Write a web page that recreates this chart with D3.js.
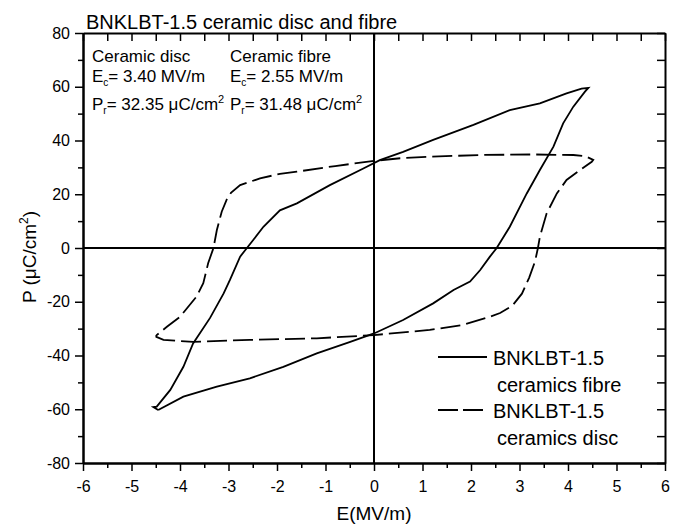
<!DOCTYPE html>
<html>
<head>
<meta charset="utf-8">
<script src="https://cdn.jsdelivr.net/npm/d3@7"></script>
<style>
  body { margin: 0; background: #fff; }
  svg { font-family: "Liberation Sans", Arial, sans-serif; }
</style>
</head>
<body>
<div class="chart"></div>
<script>
// fibre loop: lower branch (-Emax -> +Emax) then upper branch back
const fibreE = [-4.45, -3.93, -3.24, -2.56, -1.87, -1.18, -0.49, 0, 0.6, 1.22, 1.64, 1.98, 2.19, 2.39, 2.53,
  2.8, 3.15, 3.42, 3.7, 3.9, 4.11, 4.35, 4.42,
  4.28, 3.97, 3.42, 2.8, 2.05, 1.22, 0.6, 0.12, -0.22, -0.91, -1.59, -1.94, -2.28, -2.49, -2.62,
  -2.76, -2.97, -3.1, -3.38, -3.73, -3.93, -4.2, -4.48, -4.55, -4.45];
const fibreP = [-60.3, -55.3, -51.6, -48.5, -44.2, -39.2, -34.9, -31.8, -26.8, -20.6, -15.6, -12.5, -8.2, -3.2, 0,
  7.9, 20.3, 29, 37.7, 46.4, 52.6, 58.2, 59.6,
  59.3, 57.5, 53.8, 51.3, 45.8, 40.2, 35.8, 32.7, 29.6, 23.4, 16.6, 14.0, 7.9, 3.0, 0,
  -3.2, -11.9, -16.9, -26, -35.5, -44.2, -52.8, -59, -59.2, -60.3];

// disc loop
const discE = [-4.5, -4.34, -3.73, -2.56, -1.18, 0, 1.15, 1.84, 2.39, 2.6, 2.85, 3.05, 3.2, 3.32, 3.38,
  3.42, 3.56, 3.77, 3.97, 4.25, 4.49, 4.52,
  4.35, 4.11, 3.29, 2.19, 1.2, 0.54, 0, -0.8, -1.59, -1.94, -2.35, -2.76, -2.95, -3.04, -3.14, -3.24, -3.31,
  -3.42, -3.52, -3.66, -4.0, -4.27, -4.48, -4.5];
const discP = [-33, -34.2, -34.9, -34.2, -33.6, -32.4, -30.5, -28.6, -25.6, -24.2, -21.5, -17, -11, -5, 0,
  4.2, 12.9, 20.3, 25.3, 29, 32.1, 32.8,
  34.2, 34.6, 34.8, 34.6, 34.0, 33.4, 32.4, 30.5, 28.4, 27.6, 25.9, 23.4, 20.5, 17.9, 13.5, 6.7, 0,
  -5.7, -13.1, -18.1, -25.6, -29.3, -32.4, -33];

const xTicks = d3.range(-6, 7, 1);
const xMinor = d3.range(-5.5, 6, 1);
const yTicks = d3.range(-80, 81, 20);
const yMinor = d3.range(-70, 71, 20);

const title = "BNKLBT-1.5 ceramic disc and fibre";
const notes = [
  {name: "Ceramic disc", ec: "3.40", pr: "32.35"},
  {name: "Ceramic fibre", ec: "2.55", pr: "31.48"}
];
const legendItems = [
  {l1: "BNKLBT-1.5", l2: "ceramics fibre", dash: null},
  {l1: "BNKLBT-1.5", l2: "ceramics disc", dash: "20,5"}
];

const width = 678, height = 527;
const margin = {top: 33, right: 13, bottom: 64, left: 83};

const svg = d3.select(".chart").append("svg")
    .attr("width", width)
    .attr("height", height);

const x = d3.scaleLinear().domain([-6, 6]).range([margin.left, width - margin.right]);
const y = d3.scaleLinear().domain([-80, 80]).range([height - margin.bottom, margin.top]);

const plain = d => String(d); // hyphen minus like the original

// minor ticks first
svg.append("g")
    .attr("transform", `translate(0, ${y(-80)})`)
    .call(d3.axisBottom(x).tickValues(xMinor).tickSize(5).tickFormat("").tickSizeOuter(0));
svg.append("g")
    .attr("transform", `translate(${x(-6)}, 0)`)
    .call(d3.axisLeft(y).tickValues(yMinor).tickSize(5).tickFormat("").tickSizeOuter(0));
svg.append("g")
    .attr("transform", `translate(0, ${y(80)})`)
    .call(d3.axisTop(x).tickValues(d3.range(-6, 6.01, 0.5)).tickSize(-8).tickFormat("").tickSizeOuter(0));
svg.append("g")
    .attr("transform", `translate(${x(6)}, 0)`)
    .call(d3.axisRight(y).tickValues(d3.range(-80, 81, 10)).tickSize(-8).tickFormat("").tickSizeOuter(0));

svg.append("g")
    .attr("transform", `translate(0, ${y(-80)})`)
    .call(d3.axisBottom(x).tickValues(xTicks).tickFormat(plain).tickSize(8).tickPadding(10).tickSizeOuter(0))
    .style("font-size", "16px");
svg.append("g")
    .attr("transform", `translate(${x(-6)}, 0)`)
    .call(d3.axisLeft(y).tickValues(yTicks).tickFormat(plain).tickSize(8).tickPadding(5).tickSizeOuter(0))
    .style("font-size", "16px");

svg.selectAll(".domain").attr("stroke-width", 2);
svg.selectAll(".tick line").attr("stroke-width", 1.5);
svg.selectAll(".tick text").attr("fill", "#000").style("font-family", "'Liberation Sans', Arial, sans-serif");

// zero lines
svg.append("line")
    .attr("x1", x(-6)).attr("x2", x(6))
    .attr("y1", y(0)).attr("y2", y(0))
    .attr("stroke", "black").attr("stroke-width", 2);
svg.append("line")
    .attr("x1", x(0)).attr("x2", x(0))
    .attr("y1", y(-80)).attr("y2", y(80))
    .attr("stroke", "black").attr("stroke-width", 2);

const line = d3.line()
    .x(d => x(d[0]))
    .y(d => y(d[1]));

svg.append("path")
    .datum(d3.zip(fibreE, fibreP))
    .attr("d", line)
    .attr("fill", "none")
    .attr("stroke", "black")
    .attr("stroke-width", 1.8);

svg.append("path")
    .datum(d3.zip(discE, discP))
    .attr("d", line)
    .attr("fill", "none")
    .attr("stroke", "black")
    .attr("stroke-width", 1.8)
    .attr("stroke-dasharray", "20,6");

// title
svg.append("text")
    .attr("x", 86).attr("y", 29)
    .style("font-size", "20px")
    .text(title);

// annotations
const noteX = [92, 230];
notes.forEach((n, i) => {
    const g = svg.append("g").style("font-size", "17px");
    g.append("text").attr("x", noteX[i]).attr("y", 62).text(n.name);
    const t2 = g.append("text").attr("x", noteX[i]).attr("y", 82);
    t2.append("tspan").text("E");
    t2.append("tspan").attr("dy", 4).style("font-size", "10px").text("c");
    t2.append("tspan").attr("dy", -4).text(`= ${n.ec} MV/m`);
    const t3 = g.append("text").attr("x", noteX[i]).attr("y", 110);
    t3.append("tspan").text("P");
    t3.append("tspan").attr("dy", 4).style("font-size", "10px").text("r");
    t3.append("tspan").attr("dy", -4).text(`= ${n.pr} μC/cm`);
    t3.append("tspan").attr("dy", -7).style("font-size", "11px").text("2");
});

// legend
const legY = [357, 410];
legendItems.forEach((d, i) => {
    svg.append("line")
        .attr("x1", 438).attr("x2", 487)
        .attr("y1", legY[i]).attr("y2", legY[i])
        .attr("stroke", "black").attr("stroke-width", 1.8)
        .attr("stroke-dasharray", d.dash);
    svg.append("text").attr("x", 493).attr("y", legY[i] + 8)
        .style("font-size", "20px").text(d.l1);
    svg.append("text").attr("x", 497).attr("y", legY[i] + 35)
        .style("font-size", "20px").text(d.l2);
});

// axis titles
svg.append("text")
    .attr("x", x(0)).attr("y", 520)
    .attr("text-anchor", "middle")
    .style("font-size", "19px")
    .text("E(MV/m)");

const yt = svg.append("text")
    .attr("transform", "translate(36, 257) rotate(-90)")
    .attr("text-anchor", "middle")
    .style("font-size", "19px");
yt.append("tspan").text("P (μC/cm");
yt.append("tspan").attr("dy", -8).style("font-size", "12px").text("2");
yt.append("tspan").attr("dy", 8).text(")");
</script>
</body>
</html>
